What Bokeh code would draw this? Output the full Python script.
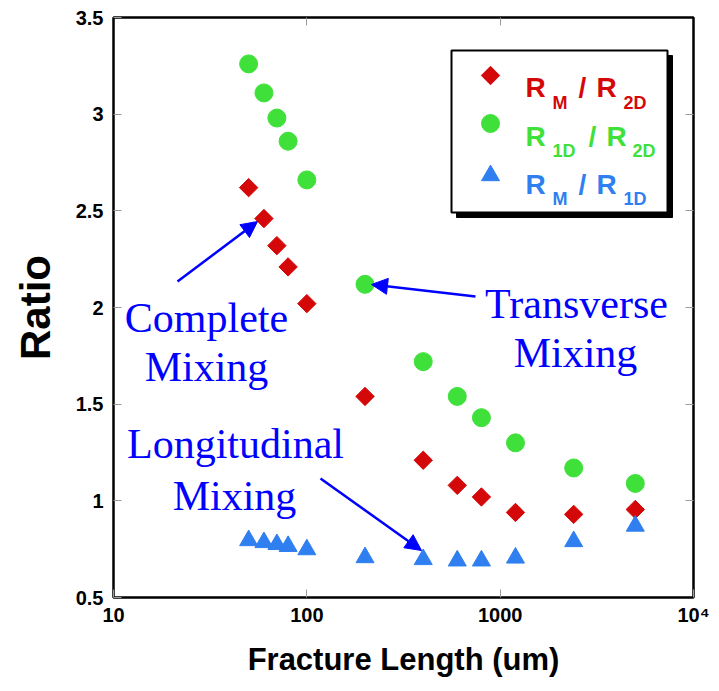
from bokeh.plotting import figure
from bokeh.models import (LogAxis, LinearAxis, FixedTicker, Label, Arrow, NormalHead,
                          BoxAnnotation, NumeralTickFormatter)
from bokeh.embed import file_html
from bokeh.resources import INLINE

# ---------------- data ----------------
fracture_length = [50, 60, 70, 80, 100, 200, 400, 600, 800, 1200, 2400, 5000]
rm_over_r2d = [2.62, 2.46, 2.32, 2.21, 2.02, 1.54, 1.21, 1.08, 1.02, 0.94, 0.93, 0.955]
r1d_over_r2d = [3.26, 3.11, 2.98, 2.86, 2.66, 2.12, 1.72, 1.54, 1.43, 1.30, 1.17, 1.09]
rm_over_r1d = [0.795, 0.785, 0.775, 0.765, 0.748, 0.707, 0.697, 0.69, 0.69, 0.705, 0.79, 0.87]

x_ticks = [10, 100, 1000, 10000]
x_tick_labels = {10: "10", 100: "100", 1000: "1000", 10000: "10\u2074"}
y_ticks = [0.5, 1, 1.5, 2, 2.5, 3, 3.5]

RED = "#d40808"
GREEN = "#3fe03a"
BLUE = "#2f7ff0"
ANN = "#0000ff"
SANS = "Liberation Sans"
SERIF = "Liberation Serif"

# frame geometry (page pixels) used to place annotations
FL, FT, FW, FH = 113, 17, 580, 580


def fx(px):
    return 10 ** (1 + 3 * (px - FL) / FW)


def fy(py):
    return 0.5 + 3 * (FT + FH - py) / FH


p = figure(x_axis_type="log", x_range=(10, 10000), y_range=(0.5, 3.5),
           frame_width=580, frame_height=580,
           min_border_left=113, min_border_right=18, min_border_top=17, min_border_bottom=86,
           output_backend="svg", toolbar_location=None,
           background_fill_color="white", border_fill_color="white")
p.grid.visible = False
p.outline_line_color = "black"
p.outline_line_width = 2.5
p.outline_line_alpha = 1

xa = p.xaxis[0]
xa.ticker = FixedTicker(ticks=x_ticks)
xa.major_label_overrides = x_tick_labels
ya = p.yaxis[0]
ya.ticker = FixedTicker(ticks=y_ticks)
ya.formatter = NumeralTickFormatter(format="0.[0]")

for ax in (xa, ya):
    ax.axis_line_color = None
    ax.major_tick_in = 8
    ax.major_tick_out = 0
    ax.major_tick_line_color = "#9a9a9a"
    ax.major_tick_line_width = 1
    ax.minor_tick_line_color = None
    ax.major_label_text_font = SANS
    ax.major_label_text_font_style = "bold"
    ax.major_label_text_font_size = "20px"
    ax.major_label_text_color = "black"
    ax.axis_label_text_font = SANS
    ax.axis_label_text_font_style = "bold"
    ax.axis_label_text_color = "black"

xa.axis_label = "Fracture Length (um)"
xa.axis_label_text_font_size = "31px"
xa.major_label_standoff = 6
xa.axis_label_standoff = 13
ya.axis_label = "Ratio"
ya.axis_label_text_font_size = "42px"
ya.major_label_standoff = 10
ya.axis_label_standoff = 14

top = LogAxis(ticker=FixedTicker(ticks=[100, 1000]))
right = LinearAxis(ticker=FixedTicker(ticks=[1, 1.5, 2, 2.5, 3]))
for ax in (top, right):
    ax.axis_line_color = None
    ax.major_tick_in = 8
    ax.major_tick_out = 0
    ax.major_tick_line_color = "#9a9a9a"
    ax.minor_tick_line_color = None
    ax.major_label_text_font_size = "1px"
    ax.major_label_text_alpha = 0
    ax.major_label_standoff = 0
p.add_layout(top, "above")
p.add_layout(right, "right")

# ---------------- data marks ----------------
p.scatter(fracture_length, r1d_over_r2d, marker="circle", size=18,
          fill_color=GREEN, line_color=GREEN)
p.scatter(fracture_length, rm_over_r2d, marker="square", size=13, angle=0.785398,
          fill_color=RED, line_color=RED)
p.scatter(fracture_length, rm_over_r1d, marker="triangle", size=18,
          fill_color=BLUE, line_color=BLUE)

# ---------------- legend box ----------------
shadow = BoxAnnotation(left=fx(456), right=fx(672), top=fy(55), bottom=fy(217),
                       fill_color="black", fill_alpha=1, line_color="black", line_alpha=1,
                       level="underlay")
box = BoxAnnotation(left=fx(451), right=fx(667), top=fy(50), bottom=fy(212),
                    fill_color="white", fill_alpha=1, line_color="black", line_alpha=1,
                    line_width=2, level="underlay")
p.add_layout(shadow)
p.add_layout(box)

p.scatter([fx(490)], [fy(75)], marker="square", size=13, angle=0.785398,
          fill_color=RED, line_color=RED)
p.scatter([fx(490)], [fy(123)], marker="circle", size=18, fill_color=GREEN, line_color=GREEN)
p.scatter([fx(490)], [fy(175)], marker="triangle", size=18, fill_color=BLUE, line_color=BLUE)

legend_rows = [
    (RED, 87, 102, [("R", 525, 0), ("M", 552, 1), ("/", 578, 0), ("R", 596, 0), ("2D", 623, 1)]),
    (GREEN, 136, 150, [("R", 525, 0), ("1D", 552, 1), ("/", 588, 0), ("R", 606, 0), ("2D", 632, 1)]),
    (BLUE, 184, 198, [("R", 525, 0), ("M", 552, 1), ("/", 578, 0), ("R", 596, 0), ("1D", 623, 1)]),
]
for color, base, subbase, parts in legend_rows:
    for txt, px, sub in parts:
        p.add_layout(Label(x=fx(px), y=fy(subbase if sub else base), text=txt,
                           text_font=SANS, text_font_style="bold",
                           text_font_size="18px" if sub else "28px",
                           text_color=color, text_align="left", text_baseline="alphabetic"))

# ---------------- annotations ----------------
annotations = [
    ("Complete", 206, 317), ("Mixing", 206, 366),
    ("Transverse", 576, 303), ("Mixing", 575, 352),
    ("Longitudinal", 235, 443), ("Mixing", 234, 495),
]
for txt, px, py in annotations:
    p.add_layout(Label(x=fx(px), y=fy(py), text=txt, text_font=SERIF,
                       text_font_size="42px", text_color=ANN,
                       text_align="center", text_baseline="alphabetic"))

arrows = [((177, 281), (257, 221)), ((475, 296), (371, 284)), ((320, 478), (421, 550))]
for (x0, y0), (x1, y1) in arrows:
    p.add_layout(Arrow(end=NormalHead(size=16, fill_color=ANN, line_color=ANN),
                       x_start=fx(x0), y_start=fy(y0), x_end=fx(x1), y_end=fy(y1),
                       line_color=ANN, line_width=2.5))

open("out.html", "w").write(file_html(p, INLINE))
